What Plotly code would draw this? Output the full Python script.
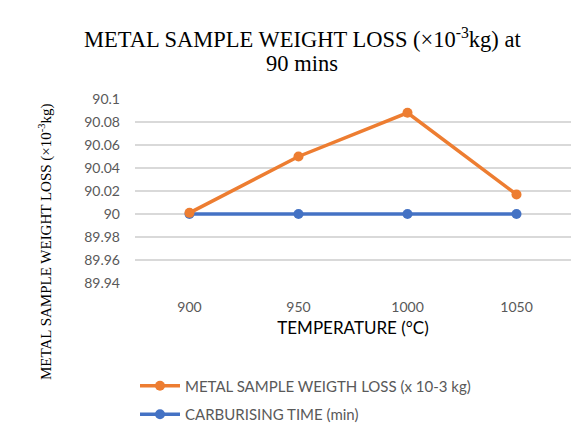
import plotly.graph_objects as go

temperatures = ["900", "950", "1000", "1050"]
weight_loss = [90.001, 90.05, 90.088, 90.017]
carburising_time = [90, 90, 90, 90]
y_ticks = [89.94, 89.96, 89.98, 90, 90.02, 90.04, 90.06, 90.08, 90.1]

ORANGE = "#ED7D31"
BLUE = "#4472C4"
GRID = "#D9D9D9"
TICK = "#595959"
SANS = "Lato, Carlito, Calibri, sans-serif"
SERIF = "Liberation Serif, Times New Roman, serif"

# plot area in pixels: x 135..571, y 99..283
PL, PW, PT, PH = 135, 436, 99, 184


def px_x(x):
    return (x - PL) / PW


def px_y(y):
    return (PT + PH - y) / PH


fig = go.Figure()
fig.add_trace(go.Scatter(
    x=temperatures, y=carburising_time, mode="lines+markers",
    name="CARBURISING TIME (min)", legendgroup="b", legendrank=2,
    line=dict(color=BLUE, width=3.5), marker=dict(color=BLUE, size=10),
))
fig.add_trace(go.Scatter(
    x=temperatures, y=weight_loss, mode="lines+markers",
    name="METAL SAMPLE WEIGTH LOSS (x 10-3 kg)", legendgroup="a", legendrank=1,
    line=dict(color=ORANGE, width=3.5), marker=dict(color=ORANGE, size=10),
))

fig.update_layout(
    width=580, height=433,
    margin=dict(l=PL, r=580 - PL - PW, t=PT, b=433 - PT - PH, autoexpand=False),
    paper_bgcolor="white", plot_bgcolor="white",
    showlegend=True,
    legend=dict(
        x=0.0, y=-0.47, xanchor="left", yanchor="top",
        traceorder="grouped", tracegroupgap=6,
        font=dict(family=SANS, size=15, color=TICK),
        bgcolor="rgba(0,0,0,0)", itemwidth=40,
    ),
    xaxis=dict(
        type="category", showgrid=False, showline=False, zeroline=False,
        tickfont=dict(family=SANS, size=14, color=TICK),
        ticks="", ticklabelstandoff=14,
        title=dict(text="TEMPERATURE (°C)", font=dict(family=SANS, size=17, color="#000000"), standoff=8),
        range=[-0.5, 3.5],
    ),
    yaxis=dict(
        range=[89.94, 90.1], tickvals=y_ticks,
        ticktext=[f"{v:g}" for v in y_ticks],
        showgrid=True, gridcolor=GRID, gridwidth=1.5,
        zeroline=False, showline=False, ticks="",
        tickfont=dict(family=SANS, size=14, color=TICK),
        ticklabelstandoff=14,
    ),
    annotations=[
        dict(
            text="METAL SAMPLE WEIGHT LOSS (×10<sup>-3</sup>kg) at",
            xref="paper", yref="paper", x=px_x(302), y=px_y(38),
            xanchor="center", yanchor="middle", showarrow=False,
            font=dict(family=SERIF, size=22.5, color="#000000"),
        ),
        dict(
            text="90 mins",
            xref="paper", yref="paper", x=px_x(302), y=px_y(63),
            xanchor="center", yanchor="middle", showarrow=False,
            font=dict(family=SERIF, size=22.5, color="#000000"),
        ),
        dict(
            text="METAL SAMPLE WEIGHT LOSS (×10<sup>-3</sup>kg)",
            xref="paper", yref="paper", x=px_x(45), y=px_y(242),
            xanchor="center", yanchor="middle", textangle=-90, showarrow=False,
            font=dict(family=SERIF, size=15, color="#000000"),
        ),
    ],
)

fig.write_html("out.html")
